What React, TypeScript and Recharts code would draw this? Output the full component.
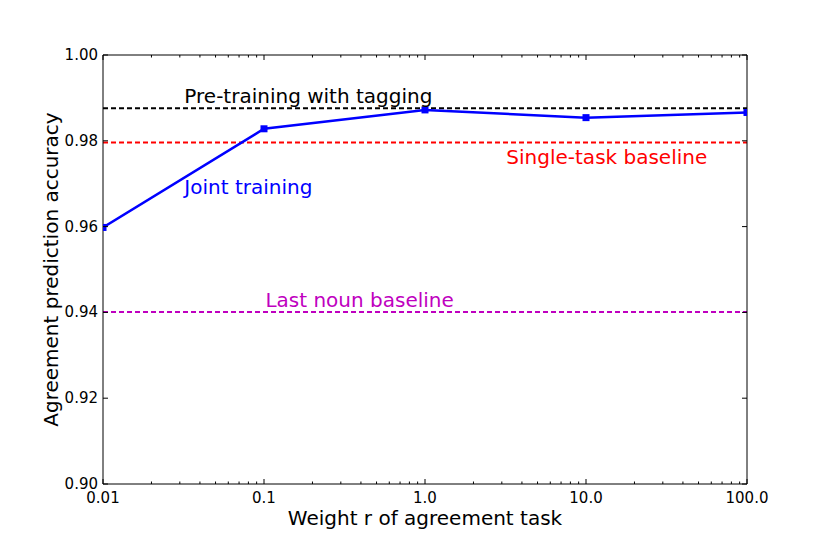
import { Line, LineChart, ReferenceDot, ReferenceLine, XAxis, YAxis } from 'recharts';

const weights = [0.01, 0.1, 1, 10, 100];
const jointAccuracy = [0.9598, 0.9828, 0.9872, 0.9854, 0.9866];

const pretrainBaseline = 0.9876;
const singleTaskBaseline = 0.9796;
const lastNounBaseline = 0.9401;

const xMajorTicks = [0.01, 0.1, 1, 10, 100];
const xTickLabels = ['0.01', '0.1', '1.0', '10.0', '100.0'];
const yTicks = [0.9, 0.92, 0.94, 0.96, 0.98, 1.0];
const yTickLabels = ['0.90', '0.92', '0.94', '0.96', '0.98', '1.00'];

const annotations = [
  { text: 'Pre-training with tagging', x: 0.032, y: 0.9888, color: '#000000' },
  { text: 'Joint training', x: 0.032, y: 0.9676, color: '#0000ff' },
  { text: 'Single-task baseline', x: 3.2, y: 0.9745, color: '#ff0000' },
  { text: 'Last noun baseline', x: 0.102, y: 0.9412, color: '#bf00bf' },
];

// log minor ticks 2..9 inside every decade
const xMinorTicks = xMajorTicks.slice(0, -1).flatMap((d) => [2, 3, 4, 5, 6, 7, 8, 9].map((k) => +(d * k).toPrecision(3)));
const xAllTicks = [...xMajorTicks, ...xMinorTicks].sort((a, b) => a - b);

const data = weights.map((r, i) => ({ r, acc: jointAccuracy[i] }));

const FONT = 'DejaVu Sans, sans-serif';

const isMajor = (v: number) => xMajorTicks.includes(v);

function BottomTick({ x, y, payload }: any) {
  const major = isMajor(payload.value);
  const idx = xMajorTicks.indexOf(payload.value);
  return (
    <g>
      <line x1={x} x2={x} y1={y} y2={y - (major ? 5 : 2.5)} stroke="#000" strokeWidth={1} />
      {major && (
        <text x={x} y={y + 14} textAnchor="middle" dominantBaseline="central" fontSize={15} fontFamily={FONT} fill="#000">
          {xTickLabels[idx]}
        </text>
      )}
    </g>
  );
}

function TopTick({ x, y, payload }: any) {
  const major = isMajor(payload.value);
  return <line x1={x} x2={x} y1={y} y2={y + (major ? 5 : 2.5)} stroke="#000" strokeWidth={1} />;
}

function LeftTick({ x, y, index }: any) {
  return (
    <g>
      <line x1={x} x2={x + 5} y1={y} y2={y} stroke="#000" strokeWidth={1} />
      <text x={x - 5} y={y} textAnchor="end" dominantBaseline="central" fontSize={15} fontFamily={FONT} fill="#000">
        {yTickLabels[index]}
      </text>
    </g>
  );
}

function RightTick({ x, y }: any) {
  return <line x1={x} x2={x - 5} y1={y} y2={y} stroke="#000" strokeWidth={1} />;
}

function SquareDot({ cx, cy }: any) {
  return <rect x={cx - 3.5} y={cy - 3.5} width={7} height={7} fill="#0000ff" />;
}

export default function App() {
  return (
    <div style={{ position: 'absolute', left: 0, top: 0, background: '#fff' }}>
      <LineChart width={830} height={554} data={data} margin={{ top: 45, right: 73, bottom: 10, left: 0 }}>
        <XAxis
          xAxisId="bottom"
          dataKey="r"
          type="number"
          scale="log"
          domain={[0.01, 100]}
          allowDataOverflow
          ticks={xAllTicks}
          interval={0}
          tick={<BottomTick />}
          tickLine={false}
          tickSize={0}
          tickMargin={0}
          height={60}
          axisLine={{ stroke: '#000' }}
          label={{ value: 'Weight r of agreement task', position: 'insideBottom', offset: 19, fontSize: 20, fontFamily: FONT, fill: '#000' }}
        />
        <XAxis
          xAxisId="top"
          orientation="top"
          dataKey="r"
          type="number"
          scale="log"
          domain={[0.01, 100]}
          allowDataOverflow
          ticks={xAllTicks}
          interval={0}
          tick={<TopTick />}
          tickLine={false}
          tickSize={0}
          tickMargin={0}
          height={10}
          axisLine={{ stroke: '#000' }}
        />
        <YAxis
          yAxisId="left"
          type="number"
          domain={[0.9, 1.0]}
          allowDataOverflow
          ticks={yTicks}
          interval={0}
          tick={<LeftTick />}
          tickLine={false}
          tickSize={0}
          tickMargin={0}
          width={103}
          axisLine={{ stroke: '#000' }}
          label={{ value: 'Agreement prediction accuracy', angle: -90, position: 'insideLeft', offset: 51, fontSize: 20, fontFamily: FONT, fill: '#000', style: { textAnchor: 'middle' } }}
        />
        <YAxis
          yAxisId="right"
          orientation="right"
          type="number"
          domain={[0.9, 1.0]}
          allowDataOverflow
          ticks={yTicks}
          interval={0}
          tick={<RightTick />}
          tickLine={false}
          tickSize={0}
          tickMargin={0}
          width={10}
          axisLine={{ stroke: '#000' }}
        />
        <ReferenceLine xAxisId="bottom" yAxisId="left" y={pretrainBaseline} stroke="#000000" strokeWidth={2} strokeDasharray="5 3" />
        <ReferenceLine xAxisId="bottom" yAxisId="left" y={singleTaskBaseline} stroke="#ff0000" strokeWidth={2} strokeDasharray="5 3" />
        <ReferenceLine xAxisId="bottom" yAxisId="left" y={lastNounBaseline} stroke="#bf00bf" strokeWidth={2} strokeDasharray="5 3" />
        <Line
          xAxisId="bottom"
          yAxisId="left"
          dataKey="acc"
          stroke="#0000ff"
          strokeWidth={2.5}
          dot={<SquareDot />}
          activeDot={false}
          isAnimationActive={false}
        />
        {annotations.map((a) => (
          <ReferenceDot
            key={a.text}
            xAxisId="bottom"
            yAxisId="left"
            x={a.x}
            y={a.y}
            shape={(p: any) => (
              <text x={p.cx} y={p.cy} fontSize={20} fontFamily={FONT} fill={a.color}>
                {a.text}
              </text>
            )}
          />
        ))}
      </LineChart>
    </div>
  );
}
